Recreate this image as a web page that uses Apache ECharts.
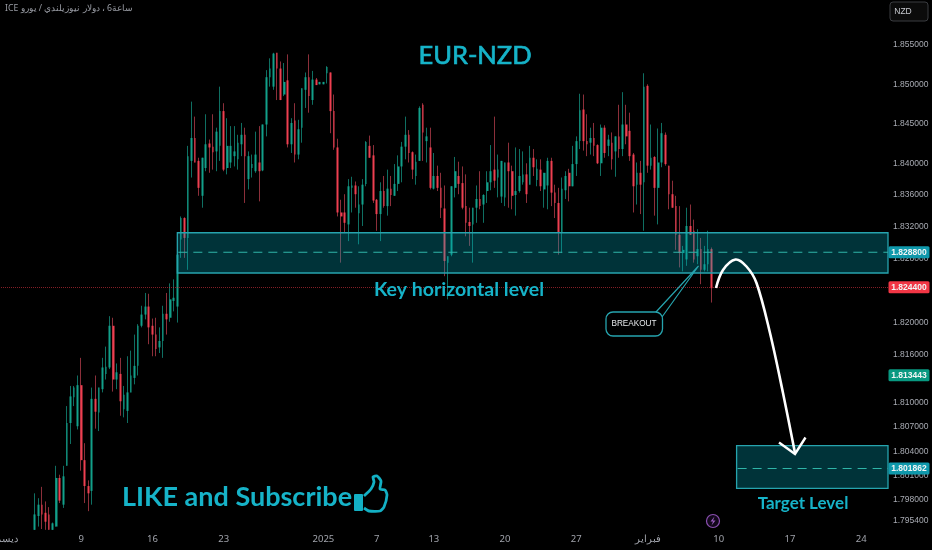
<!DOCTYPE html>
<html><head><meta charset="utf-8">
<style>html,body{margin:0;padding:0;background:#000}#c{width:932px;height:550px}</style>
<script src="https://cdn.jsdelivr.net/npm/echarts@6/dist/echarts.min.js"></script>
</head><body><div id="c"></div>
<script>
const slotCount = 249;
const firstCandleSlot = 9;
const tickSlots = [0,22,42,62,90,105,121,141,161,181,201,221,241];
const tickLabels = ['ديسمبر','9','16','23','2025','7','13','20','27','فبراير','10','17','24'];
const priceTicks = [1.855,1.85,1.845,1.84,1.836,1.832,1.828,1.82,1.816,1.81,1.807,1.804,1.801,1.798,1.7954];
const opens = [1.7943,1.7960,1.7974,1.7964,1.7962,1.7943,1.7947,1.8007,1.7974,1.8022,1.8075,1.8107,1.8071,1.8122,1.8029,1.7997,1.7991,1.8105,1.8088,1.8117,1.8136,1.8144,1.8196,1.8129,1.8136,1.8092,1.8090,1.8113,1.8131,1.8146,1.8196,1.8210,1.8220,1.8196,1.8185,1.8169,1.8177,1.8211,1.8206,1.8227,1.8220,
1.8304,1.8331,1.8306,1.8403,1.8432,1.8403,1.8359,1.8394,1.8425,1.8421,1.8415,1.8422,1.8466,1.8394,1.8401,1.8409,1.8405,1.8424,1.8436,1.8380,1.8394,1.8390,1.8401,1.8391,1.8449,1.8509,1.8497,1.8540,1.8520,1.8487,1.8505,1.8424,1.8454,1.8411,1.8445,1.8493,1.8509,1.8480,1.8506,1.8500,1.8500,1.8514,1.8515,1.8466,1.8420,1.8338,1.8338,1.8323,1.8369,1.8372,1.8337,1.8348,
1.8374,1.8422,1.8410,1.8354,1.8336,1.8365,1.8346,1.8368,1.8359,1.8374,1.8396,1.8421,1.8436,1.8414,1.8384,1.8403,1.8474,1.8428,1.8420,1.8368,1.8384,1.8369,1.8343,1.8275,1.8285,1.8369,1.8384,1.8375,1.8346,1.8326,1.8323,1.8344,1.8355,1.8348,1.8365,1.8376,1.8392,1.8382,1.8358,1.8357,1.8401,1.8390,1.8360,1.8365,1.8376,1.8386,1.8373,1.8407,1.8379,1.8392,1.8367,1.8372,
1.8403,1.8363,1.8350,1.8313,1.8366,1.8388,1.8371,1.8399,1.8428,1.8468,1.8428,1.8426,1.8432,1.8423,1.8400,1.8445,1.8422,1.8426,1.8415,1.8434,1.8418,1.8449,1.8441,1.8411,1.8373,1.8388,1.8376,1.8498,1.8397,1.8408,1.8369,1.8401,1.8436,1.8397,1.8361,1.8346,1.8310,1.8287,1.8279,1.8321,1.8315,1.8283,1.8292,1.8266,1.8273,1.8292];
const closes = [1.7962,1.7974,1.7962,1.7953,1.7943,1.7951,1.8007,1.7979,1.8009,1.8075,1.8108,1.8119,1.8122,1.8029,1.7997,1.7988,1.8105,1.8089,1.8119,1.8144,1.8145,1.8196,1.8129,1.8138,1.8102,1.8110,1.8113,1.8134,1.8146,1.8196,1.8210,1.8220,1.8194,1.8185,1.8167,1.8177,1.8211,1.8204,1.8229,1.8231,1.8285,
1.8331,1.8306,1.8409,1.8432,1.8401,1.8369,1.8407,1.8424,1.8420,1.8414,1.8440,1.8466,1.8392,1.8422,1.8422,1.8415,1.8426,1.8436,1.8409,1.8409,1.8399,1.8411,1.8390,1.8449,1.8509,1.8520,1.8539,1.8520,1.8480,1.8503,1.8424,1.8451,1.8411,1.8443,1.8495,1.8509,1.8485,1.8506,1.8499,1.8503,1.8503,1.8522,1.8466,1.8420,1.8338,1.8333,1.8325,1.8371,1.8372,1.8361,1.8348,1.8373,
1.8427,1.8407,1.8353,1.8336,1.8365,1.8346,1.8368,1.8360,1.8374,1.8396,1.8421,1.8436,1.8413,1.8392,1.8402,1.8470,1.8439,1.8434,1.8369,1.8384,1.8369,1.8344,1.8277,1.8283,1.8371,1.8390,1.8374,1.8344,1.8325,1.8321,1.8344,1.8355,1.8346,1.8360,1.8376,1.8390,1.8378,1.8392,1.8403,1.8401,1.8390,1.8359,1.8365,1.8384,1.8386,1.8361,1.8407,1.8395,1.8393,1.8371,1.8388,1.8403,
1.8363,1.8350,1.8313,1.8368,1.8384,1.8371,1.8399,1.8428,1.8467,1.8428,1.8424,1.8432,1.8422,1.8400,1.8445,1.8413,1.8430,1.8405,1.8434,1.8418,1.8449,1.8434,1.8409,1.8371,1.8388,1.8373,1.8497,1.8397,1.8407,1.8369,1.8401,1.8438,1.8399,1.8361,1.8344,1.8310,1.8287,1.8291,1.8321,1.8310,1.8279,1.8292,1.8266,1.8273,1.8292,1.8243];
const lows = [1.7943,1.7947,1.7944,1.7943,1.7943,1.7943,1.7947,1.7976,1.7970,1.8022,1.8049,1.8096,1.8067,1.8016,1.7976,1.7966,1.7974,1.8068,1.8065,1.8113,1.8129,1.8142,1.8114,1.8117,1.8084,1.8082,1.8075,1.8113,1.8123,1.8134,1.8194,1.8204,1.8173,1.8158,1.8158,1.8162,1.8156,1.8185,1.8201,1.8214,1.8200,
1.8281,1.8281,1.8266,1.8382,1.8401,1.8359,1.8344,1.8390,1.8388,1.8392,1.8390,1.8403,1.8390,1.8386,1.8394,1.8396,1.8392,1.8409,1.8350,1.8367,1.8382,1.8388,1.8352,1.8390,1.8434,1.8497,1.8493,1.8480,1.8480,1.8485,1.8420,1.8413,1.8401,1.8405,1.8426,1.8470,1.8464,1.8474,1.8499,1.8500,1.8500,1.8501,1.8438,1.8417,1.8333,1.8275,1.8312,1.8302,1.8338,1.8344,1.8298,1.8321,
1.8371,1.8407,1.8350,1.8315,1.8302,1.8344,1.8334,1.8346,1.8359,1.8365,1.8376,1.8405,1.8401,1.8380,1.8373,1.8403,1.8403,1.8401,1.8367,1.8367,1.8365,1.8331,1.8258,1.8229,1.8283,1.8357,1.8361,1.8342,1.8308,1.8296,1.8275,1.8325,1.8342,1.8325,1.8350,1.8366,1.8369,1.8357,1.8350,1.8346,1.8344,1.8342,1.8334,1.8363,1.8373,1.8350,1.8373,1.8384,1.8371,1.8365,1.8344,1.8342,
1.8346,1.8331,1.8285,1.8287,1.8355,1.8352,1.8371,1.8384,1.8418,1.8416,1.8409,1.8411,1.8409,1.8399,1.8384,1.8407,1.8409,1.8392,1.8383,1.8407,1.8409,1.8424,1.8403,1.8338,1.8348,1.8336,1.8315,1.8388,1.8392,1.8334,1.8323,1.8395,1.8397,1.8342,1.8344,1.8291,1.8269,1.8264,1.8271,1.8310,1.8275,1.8273,1.8248,1.8264,1.8264,1.8225];
const highs = [1.7988,1.7982,1.7996,1.7978,1.7971,1.7952,1.8022,1.8011,1.8022,1.8096,1.8121,1.8121,1.8134,1.8156,1.8050,1.8004,1.8119,1.8134,1.8119,1.8156,1.8170,1.8208,1.8206,1.8149,1.8156,1.8121,1.8158,1.8165,1.8185,1.8198,1.8221,1.8237,1.8236,1.8205,1.8206,1.8194,1.8221,1.8237,1.8249,1.8254,1.8293,
1.8333,1.8332,1.8422,1.8478,1.8459,1.8407,1.8407,1.8462,1.8430,1.8462,1.8445,1.8497,1.8476,1.8457,1.8447,1.8447,1.8436,1.8451,1.8445,1.8415,1.8411,1.8440,1.8447,1.8449,1.8518,1.8533,1.8540,1.8540,1.8529,1.8527,1.8538,1.8457,1.8476,1.8455,1.8495,1.8515,1.8538,1.8517,1.8508,1.8503,1.8503,1.8523,1.8515,1.8487,1.8431,1.8354,1.8361,1.8380,1.8383,1.8377,1.8371,1.8380,
1.8428,1.8435,1.8423,1.8355,1.8376,1.8384,1.8392,1.8384,1.8399,1.8410,1.8427,1.8459,1.8442,1.8415,1.8411,1.8472,1.8476,1.8445,1.8445,1.8413,1.8397,1.8388,1.8372,1.8283,1.8371,1.8408,1.8402,1.8396,1.8386,1.8344,1.8344,1.8372,1.8390,1.8361,1.8390,1.8423,1.8459,1.8411,1.8403,1.8401,1.8426,1.8397,1.8420,1.8418,1.8415,1.8400,1.8422,1.8418,1.8405,1.8405,1.8388,1.8407,
1.8407,1.8373,1.8369,1.8382,1.8390,1.8393,1.8422,1.8434,1.8488,1.8487,1.8462,1.8445,1.8451,1.8424,1.8449,1.8448,1.8436,1.8439,1.8434,1.8474,1.8490,1.8474,1.8464,1.8413,1.8401,1.8403,1.8514,1.8500,1.8449,1.8409,1.8444,1.8451,1.8439,1.8397,1.8378,1.8359,1.8346,1.8296,1.8344,1.8348,1.8329,1.8317,1.8306,1.8296,1.8315,1.8294];
const zoneStartSlots = [49,206];
const zoneHighs = [1.83125,1.8047];
const zoneLows = [1.8262,1.7994];
const zoneMids = [1.8288,1.801862];
const tagPrices = [1.8288,1.8244,1.813443,1.801862];
const tagColors = ['#0f98ab','#f23645','#089981','#0f98ab'];
const currentPrice = 1.8244;

const TEAL='#16b3c8', ZONE_LINE='#26a4ae', AXISFONT='"Liberation Sans",sans-serif', ANNOT='Lato,"Noto Sans",sans-serif';
const slots = Array.from({length:slotCount},(_,i)=>String(i));
const tickMap = new Map(tickSlots.map((s,i)=>[String(s),tickLabels[i]]));
const ohlc = opens.map((o,i)=>[i+firstCandleSlot,o,closes[i],lows[i],highs[i]]);
const bodies = opens.map((o,i)=>{const c=closes[i];return [i+firstCandleSlot,o,c,Math.min(o,c),Math.max(o,c)];});
const UP='#12a08a', DOWN='#ee3f50';

const chart = echarts.init(document.getElementById('c'),null,{renderer:'canvas'});
const zoneData = zoneStartSlots.map((s,i)=>[s,zoneHighs[i],zoneLows[i],zoneMids[i]]);
const tagData = tagPrices.map((p,i)=>[p,i]);
chart.setOption({
  animation:false, backgroundColor:'#000',
  grid:{left:1,width:887,top:0,bottom:20,outerBoundsMode:'none',containLabel:false},
  xAxis:{type:'category',data:slots,boundaryGap:true,
    axisLine:{show:false},axisTick:{show:false},splitLine:{show:false},
    axisLabel:{interval:(i,v)=>tickMap.has(v),formatter:v=>tickMap.get(v)||'',color:'#a0a3ab',fontSize:9.5,margin:5,fontFamily:'"Noto Sans","Noto Sans CJK SC",sans-serif',hideOverlap:false}},
  yAxis:{type:'log',logBase:10,position:'right',min:1.79428,max:1.86073,scale:true,
    axisLine:{show:false},axisTick:{show:false},splitLine:{show:false},
    axisLabel:{customValues:priceTicks,formatter:v=>Number(v).toFixed(6),color:'#a8abb3',fontSize:8.5,margin:5,fontFamily:AXISFONT}},
  series:[
    {type:'candlestick',name:'wicks',data:ohlc,encode:{x:0,y:[1,2,3,4]},barWidth:1,z:2,
      itemStyle:{color:'transparent',color0:'transparent',borderColor:'#0f6f62',borderColor0:'#8c2f3a',borderWidth:1}},
    {type:'candlestick',name:'bodies',data:bodies,encode:{x:0,y:[1,2,3,4]},barWidth:2.2,z:3,
      itemStyle:{color:UP,color0:DOWN,borderColor:UP,borderColor0:DOWN,borderWidth:0}},
    {type:'custom',name:'zones',data:zoneData,z:4,encode:{x:0,y:[1,2,3]},clip:false,
      renderItem:(p,api)=>{
        const left=api.coord([api.value(0),api.value(1)])[0];
        const right=p.coordSys.x+p.coordSys.width;
        const top=api.coord([api.value(0),api.value(1)])[1];
        const bot=api.coord([api.value(0),api.value(2)])[1];
        const mid=api.coord([api.value(0),api.value(3)])[1];
        return {type:'group',children:[
          {type:'rect',shape:{x:left,y:top,width:right-left,height:bot-top},style:{fill:'rgba(0,170,190,0.3)',stroke:ZONE_LINE,lineWidth:1.3}},
          {type:'line',shape:{x1:left+1,y1:mid,x2:right,y2:mid},style:{stroke:'#2fb5a8',lineWidth:1.1,lineDash:[9,6]}}
        ]};
      }},
    {type:'custom',name:'tags',data:tagData,z:20,encode:{y:0},clip:false,
      renderItem:(p,api)=>{
        const y=api.coord([0,api.value(0)])[1];
        const i=api.value(1);
        return {type:'group',children:[
          {type:'rect',z2:20,shape:{x:888.5,y:y-6,width:41,height:12,r:1.5},style:{fill:tagColors[i]}},
          {type:'text',z2:21,style:{x:909,y:y,text:tagPrices[i].toFixed(6),fill:'#f2f5f5',font:'bold 8.5px '+AXISFONT,textAlign:'center',textVerticalAlign:'middle'}}
        ]};
      }},
    {type:'line',name:'current',data:[],z:5,markLine:{silent:true,symbol:'none',precision:6,label:{show:false},
      lineStyle:{color:'rgba(242,54,69,0.55)',type:'dotted',width:1},data:[{yAxis:currentPrice}]}}
  ],
  graphic:[
    {type:'text',z:30,style:{x:5,y:9,text:'ICE ساعة6 ، دولار نيوزيلندي / يورو',fill:'#9a9da5',font:'8.7px "Noto Sans","Noto Sans CJK SC",sans-serif',textVerticalAlign:'middle'}},
    {type:'rect',z:30,shape:{x:890,y:2,width:38,height:19,r:3},style:{fill:'#0b0b0b',stroke:'#3a3c40',lineWidth:1}},
    {type:'text',z:31,style:{x:903,y:12,text:'NZD',fill:'#c8cad0',font:'8.5px '+AXISFONT,textAlign:'center',textVerticalAlign:'middle'}},
    {type:'text',z:30,style:{x:475,y:56,text:'EUR-NZD',fill:TEAL,stroke:TEAL,lineWidth:0.7,font:'25.5px '+ANNOT,textAlign:'center',textVerticalAlign:'middle'}},
    {type:'text',z:30,style:{x:459,y:290,text:'Key horizontal level',fill:TEAL,font:'bold 19.5px '+ANNOT,textAlign:'center',textVerticalAlign:'middle'}},
    {type:'text',z:30,style:{x:237,y:497,text:'LIKE and Subscribe',fill:TEAL,font:'bold 27px '+ANNOT,textAlign:'center',textVerticalAlign:'middle'}},
    {type:'text',z:30,style:{x:803,y:504,text:'Target Level',fill:TEAL,font:'bold 17px '+ANNOT,textAlign:'center',textVerticalAlign:'middle'}},
    // breakout callout
    {type:'polygon',z:30,shape:{points:[[656,312],[698.5,266],[662,317]]},style:{fill:'rgba(0,0,0,0)',stroke:ZONE_LINE,lineWidth:1.2}},
    {type:'rect',z:31,shape:{x:606,y:312,width:56.5,height:24,r:7},style:{fill:'#000',stroke:ZONE_LINE,lineWidth:1.3}},
    {type:'text',z:32,style:{x:634,y:323.5,text:'BREAKOUT',fill:'#e6e8ea',font:'8.2px '+AXISFONT,textAlign:'center',textVerticalAlign:'middle'}},
    // white projection arrow
    {type:'polyline',z:33,shape:{smooth:0.35,points:[[716,288],[723,270],[735.5,259.5],[746.5,266.5],[756.5,283],[770,333],[783,393],[795,453]]},style:{stroke:'#fff',fill:'none',lineWidth:2.6}},
    {type:'polyline',z:33,shape:{points:[[779,442.5],[795,454],[805.5,437.5]]},style:{stroke:'#fff',fill:'none',lineWidth:2.4}},
    // lightning badge
    {type:'circle',z:30,shape:{cx:713,cy:521,r:6.5},style:{fill:'#12081a',stroke:'#8a4fb0',lineWidth:1.2}},
    {type:'polygon',z:31,shape:{points:[[714.5,516.5],[710.5,521.5],[713,521.5],[711.5,525.5],[715.5,520.5],[713,520.5]]},style:{fill:'#9a5cc0'}},
    // thumbs up
    {type:'rect',z:30,shape:{x:354,y:494,width:9,height:17,r:1},style:{fill:'#13b0c4'}},
    {type:'polyline',z:30,shape:{smooth:0.2,points:[[364,496],[371,489],[374,482],[373,477],[377,476],[381,481],[380,489],[385,490],[387,495],[384,507],[380,511],[369,511],[364,508]]},style:{stroke:'#13b0c4',fill:'none',lineWidth:2.8}}
  ]
});
</script></body></html>
